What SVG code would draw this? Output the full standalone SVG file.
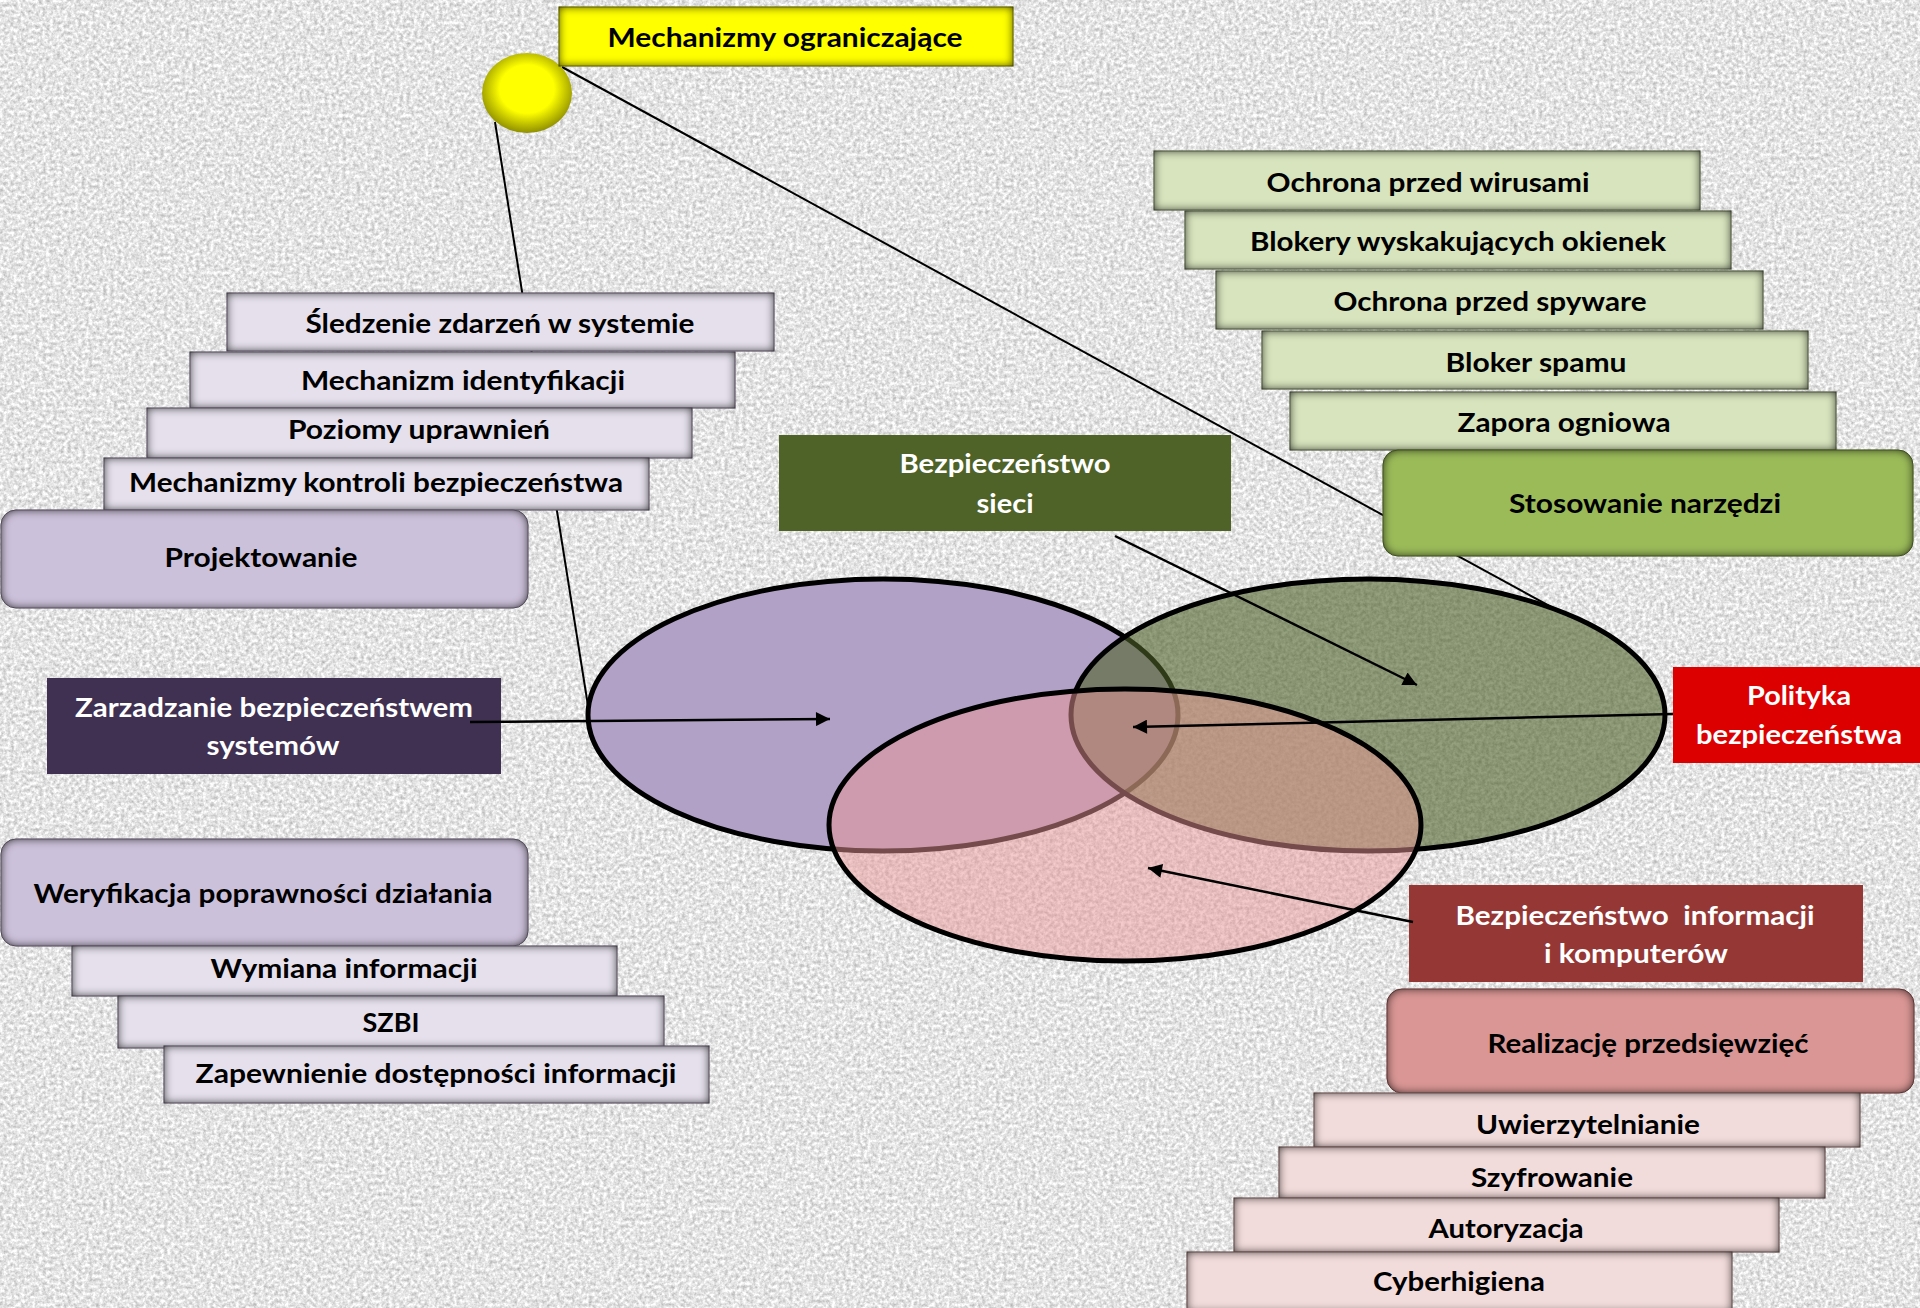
<svg xmlns="http://www.w3.org/2000/svg" width="1920" height="1308" viewBox="0 0 1920 1308">
<defs>
<style>
.t{font-family:Lato,"Open Sans","Liberation Sans",sans-serif;font-weight:700;font-size:27px;text-anchor:middle;fill:#000}
.w{fill:#fff}
.box{filter:url(#inset)}
.lp{fill:#e5e0ec;stroke:#8a7f96;stroke-width:1}
.dp{fill:#ccc1da;stroke:#8a7f96;stroke-width:1}
.lg{fill:#d7e4bd;stroke:#7c8a62;stroke-width:1}
.dg{fill:#9bbb59;stroke:#6a8434;stroke-width:1}
.lk{fill:#f2dcdb;stroke:#a07c7a;stroke-width:1}
.dk{fill:#d99694;stroke:#9a5a58;stroke-width:1}
.con{stroke:#000;stroke-width:2;fill:none}
.arr{stroke:#000;stroke-width:2.5;fill:none;marker-end:url(#ah)}
.ven{stroke:#000;stroke-width:5}
</style>
<filter id="paper" filterUnits="userSpaceOnUse" x="0" y="0" width="1920" height="1308" color-interpolation-filters="sRGB">
<feTurbulence type="fractalNoise" baseFrequency="0.28" numOctaves="3" seed="5"/>
<feColorMatrix type="matrix" values="0.45 0 0 0 0.67 0.45 0 0 0 0.67 0.45 0 0 0 0.67 0 0 0 0 1"/>
</filter>
<filter id="inset" x="-5%" y="-20%" width="110%" height="140%" color-interpolation-filters="sRGB">
<feFlood flood-color="#000" flood-opacity="0.8"/>
<feComposite in2="SourceAlpha" operator="out"/>
<feGaussianBlur stdDeviation="5"/>
<feComposite in2="SourceAlpha" operator="in" result="sh"/>
<feMerge><feMergeNode in="SourceGraphic"/><feMergeNode in="sh"/></feMerge>
</filter>
<radialGradient id="yel" cx="50%" cy="45%" r="55%"><stop offset="0.55" stop-color="#ffff00"/><stop offset="1" stop-color="#8f8f00"/></radialGradient>
<marker id="ah" viewBox="0 0 10 10" refX="10" refY="5" markerWidth="17" markerHeight="14" markerUnits="userSpaceOnUse" orient="auto"><path d="M0,0 L10,5 L0,10 z" fill="#000"/></marker>
</defs>

<rect x="0" y="0" width="1920" height="1308" fill="#e3e3e3" filter="url(#paper)"/>

<g id="connectors-back">
<line class="con" x1="495" y1="122" x2="589" y2="712"/>
<line class="con" x1="562" y1="67" x2="1555" y2="609"/>
</g>

<g id="venn">
<g id="ellipse-systemy"><ellipse class="ven" cx="883" cy="715" rx="295" ry="136" fill="#b2a1c7"/></g>
<g id="ellipse-sieci"><ellipse class="ven" cx="1368" cy="715" rx="297" ry="136" fill="#4f6228" fill-opacity="0.6"/></g>
<g id="ellipse-informacje"><ellipse class="ven" cx="1125" cy="825" rx="296" ry="136" fill="#ea9696" fill-opacity="0.5"/></g>
</g>

<g id="mechanizmy-ograniczajace">
<ellipse cx="527" cy="93" rx="45" ry="40" fill="url(#yel)"/>
<rect class="box" x="559" y="7" width="454" height="59" fill="#ffff00" stroke="#9a9a00" stroke-width="1"/>
<text class="t" x="785" y="47" textLength="355" lengthAdjust="spacingAndGlyphs">Mechanizmy ograniczające</text>
</g>

<g id="sledzenie"><rect class="box lp" x="227" y="293" width="547" height="58"/><text class="t" x="500" y="333" textLength="389" lengthAdjust="spacingAndGlyphs">Śledzenie zdarzeń w systemie</text></g>
<g id="identyfikacja"><rect class="box lp" x="190" y="352" width="545" height="56"/><text class="t" x="463" y="390" textLength="324" lengthAdjust="spacingAndGlyphs">Mechanizm identyfikacji</text></g>
<g id="uprawnienia"><rect class="box lp" x="147" y="408" width="545" height="50"/><text class="t" x="419" y="439" textLength="262" lengthAdjust="spacingAndGlyphs">Poziomy uprawnień</text></g>
<g id="kontrola"><rect class="box lp" x="104" y="458" width="545" height="52"/><text class="t" x="376" y="492" textLength="494" lengthAdjust="spacingAndGlyphs">Mechanizmy kontroli bezpieczeństwa</text></g>
<g id="projektowanie"><rect class="box dp" x="1" y="510" width="527" height="98" rx="15"/><text class="t" x="261" y="567" textLength="193" lengthAdjust="spacingAndGlyphs">Projektowanie</text></g>

<g id="wirusy"><rect class="box lg" x="1154" y="151" width="546" height="59"/><text class="t" x="1428" y="192" textLength="323" lengthAdjust="spacingAndGlyphs">Ochrona przed wirusami</text></g>
<g id="blokery"><rect class="box lg" x="1185" y="211" width="546" height="58"/><text class="t" x="1458" y="251" textLength="416" lengthAdjust="spacingAndGlyphs">Blokery wyskakujących okienek</text></g>
<g id="spyware"><rect class="box lg" x="1216" y="271" width="547" height="58"/><text class="t" x="1490" y="311" textLength="313" lengthAdjust="spacingAndGlyphs">Ochrona przed spyware</text></g>
<g id="spam"><rect class="box lg" x="1262" y="331" width="546" height="58"/><text class="t" x="1536" y="372" textLength="181" lengthAdjust="spacingAndGlyphs">Bloker spamu</text></g>
<g id="zapora"><rect class="box lg" x="1290" y="392" width="546" height="58"/><text class="t" x="1564" y="432" textLength="213" lengthAdjust="spacingAndGlyphs">Zapora ogniowa</text></g>
<g id="narzedzia"><rect class="box dg" x="1383" y="450" width="530" height="106" rx="15"/><text class="t" x="1645" y="513" textLength="272" lengthAdjust="spacingAndGlyphs">Stosowanie narzędzi</text></g>

<g id="bezpieczenstwo-sieci"><rect x="779" y="435" width="452" height="96" fill="#4f6228"/><text class="t w" x="1005" y="473" textLength="211" lengthAdjust="spacingAndGlyphs">Bezpieczeństwo</text><text class="t w" x="1005" y="513" textLength="57" lengthAdjust="spacingAndGlyphs">sieci</text></g>

<g id="zarzadzanie"><rect x="47" y="678" width="454" height="96" fill="#403152"/><text class="t w" x="274" y="717" textLength="398" lengthAdjust="spacingAndGlyphs">Zarzadzanie bezpieczeństwem</text><text class="t w" x="273" y="755" textLength="133" lengthAdjust="spacingAndGlyphs">systemów</text></g>

<g id="weryfikacja"><rect class="box dp" x="1" y="839" width="527" height="107" rx="15"/><text class="t" x="263" y="903" textLength="459" lengthAdjust="spacingAndGlyphs">Weryfikacja poprawności działania</text></g>
<g id="wymiana"><rect class="box lp" x="72" y="946" width="545" height="50"/><text class="t" x="344" y="978" textLength="267" lengthAdjust="spacingAndGlyphs">Wymiana informacji</text></g>
<g id="szbi"><rect class="box lp" x="118" y="996" width="546" height="52"/><text class="t" x="391" y="1032" textLength="57" lengthAdjust="spacingAndGlyphs">SZBI</text></g>
<g id="dostepnosc"><rect class="box lp" x="164" y="1046" width="545" height="57"/><text class="t" x="436" y="1083" textLength="481" lengthAdjust="spacingAndGlyphs">Zapewnienie dostępności informacji</text></g>

<g id="polityka"><rect x="1673" y="667" width="247" height="96" fill="#dd0000"/><text class="t w" x="1799" y="705" textLength="104" lengthAdjust="spacingAndGlyphs">Polityka</text><text class="t w" x="1799" y="744" textLength="206" lengthAdjust="spacingAndGlyphs">bezpieczeństwa</text></g>

<g id="bezpieczenstwo-informacji"><rect x="1409" y="885" width="454" height="97" fill="#953735"/><text class="t w" x="1635" y="925" textLength="359" lengthAdjust="spacingAndGlyphs" xml:space="preserve">Bezpieczeństwo  informacji</text><text class="t w" x="1636" y="963" textLength="184" lengthAdjust="spacingAndGlyphs">i komputerów</text></g>

<g id="realizacja"><rect class="box dk" x="1387" y="989" width="527" height="104" rx="15"/><text class="t" x="1648" y="1053" textLength="321" lengthAdjust="spacingAndGlyphs">Realizację przedsięwzięć</text></g>
<g id="uwierzytelnianie"><rect class="box lk" x="1314" y="1093" width="546" height="54"/><text class="t" x="1588" y="1134" textLength="224" lengthAdjust="spacingAndGlyphs">Uwierzytelnianie</text></g>
<g id="szyfrowanie"><rect class="box lk" x="1279" y="1147" width="546" height="51"/><text class="t" x="1552" y="1187" textLength="162" lengthAdjust="spacingAndGlyphs">Szyfrowanie</text></g>
<g id="autoryzacja"><rect class="box lk" x="1234" y="1198" width="545" height="54"/><text class="t" x="1506" y="1238" textLength="155" lengthAdjust="spacingAndGlyphs">Autoryzacja</text></g>
<g id="cyberhigiena"><rect class="box lk" x="1187" y="1252" width="545" height="60"/><text class="t" x="1459" y="1291" textLength="172" lengthAdjust="spacingAndGlyphs">Cyberhigiena</text></g>

<g id="connectors">
<line class="arr" x1="470" y1="722" x2="830" y2="719"/>
<line class="arr" x1="1115" y1="536" x2="1417" y2="685"/>
<line class="arr" x1="1673" y1="714" x2="1133" y2="727"/>
<line class="arr" x1="1413" y1="922" x2="1148" y2="868"/>
</g>
</svg>
